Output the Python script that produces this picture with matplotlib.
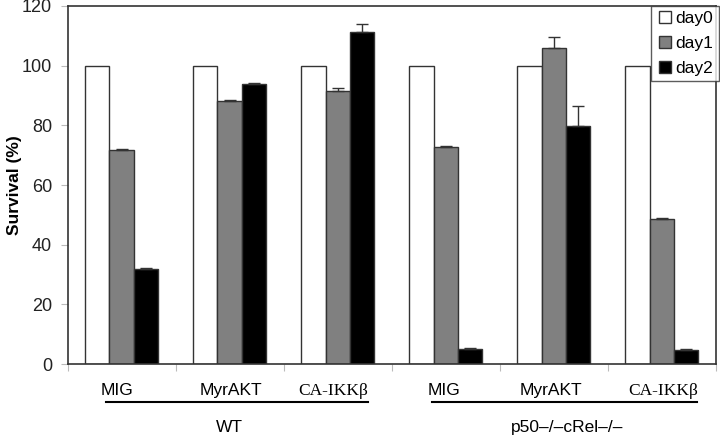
import numpy as np
import matplotlib.pyplot as plt
from matplotlib.lines import Line2D

plt.rcParams['font.family'] = ['Liberation Sans', 'DejaVu Sans']

# === Dados
constructs = ['MIG', 'MyrAKT', 'CA-IKKβ', 'MIG', 'MyrAKT', 'CA-IKKβ']
days = ['day0', 'day1', 'day2']
day0 = [100, 100, 100, 100, 100, 100]
day1 = [71.8, 88.3, 91.4, 72.8, 106.0, 48.7]
day2 = [31.9, 93.8, 111.4, 4.9, 79.9, 4.6]
err1 = [0.3, 0.2, 1.0, 0.2, 3.6, 0.2]
err2 = [0.4, 0.3, 2.6, 0.3, 6.6, 0.5]
strains = ['WT', 'p50–/–cRel–/–']

colors = ['white', '#808080', 'black']
edge = '#333333'

fig = plt.figure(figsize=(7.2, 4.4), dpi=100)
ax = fig.add_axes([67.5 / 720, 76 / 440, 648.5 / 720, 358 / 440])

x = np.arange(len(constructs))
w = 0.225
series = [day0, day1, day2]
errs = [None, err1, err2]
for k, (vals, c) in enumerate(zip(series, colors)):
    pos = x + (k - 1) * w
    ax.bar(pos, vals, width=w, color=c, edgecolor=edge, linewidth=1.0, zorder=2)
    if errs[k] is not None:
        ax.errorbar(pos, vals, yerr=[np.zeros(len(vals)), errs[k]], fmt='none',
                    ecolor=edge, elinewidth=1.0, capsize=4.3, capthick=1.0, zorder=3)

ax.set_xlim(-0.5, 5.5)
ax.set_ylim(0, 120)
ax.set_yticks(range(0, 121, 20))
ax.set_xticks(np.arange(-0.5, 6, 1))
ax.set_xticklabels([])
ax.tick_params(axis='x', direction='out', length=5, color='#bbbbbb')
ax.tick_params(axis='y', direction='out', length=5, color='#bbbbbb',
               labelsize=13, labelcolor='#222222', pad=6)
for s in ax.spines.values():
    s.set_color(edge)
    s.set_linewidth(1.2)
ax.set_ylabel('Survival (%)', fontsize=12.5, fontweight='bold')
ax.yaxis.set_label_coords(-0.070, 0.5)

# legenda
handles = [Line2D([], [], marker='s', linestyle='none', markersize=9,
                  markerfacecolor=c, markeredgecolor=edge) for c in colors]
leg = ax.legend(handles, days, loc='upper right', bbox_to_anchor=(1.004, 1.0),
                fontsize=12.5, frameon=True, fancybox=False, handletextpad=0.1,
                handlelength=1.0, borderpad=0.3, labelspacing=0.55,
                borderaxespad=0.0)
leg.get_frame().set_edgecolor(edge)
leg.get_frame().set_linewidth(1.0)

# rótulos das construções e das linhagens
label_x = [-0.04, 1.01, 1.96, 2.98, 3.97, 5.01]
for lx, name in zip(label_x, constructs):
    fam = 'Liberation Serif' if 'IKK' in name else 'Liberation Sans'
    ax.text(lx, -9.0, name, ha='center', va='center', fontsize=12.5,
            family=fam, clip_on=False)

line_spans = [(-0.144, 2.282), (2.869, 5.326)]
strain_x = [0.995, 4.125]
for (x0, x1), sx, name in zip(line_spans, strain_x, strains):
    ax.plot([x0, x1], [-12.8, -12.8], color='black', lw=1.5, clip_on=False)
    ax.text(sx, -21.2, name, ha='center', va='center', fontsize=12.5, clip_on=False)

fig.savefig('out.png', dpi=100)
